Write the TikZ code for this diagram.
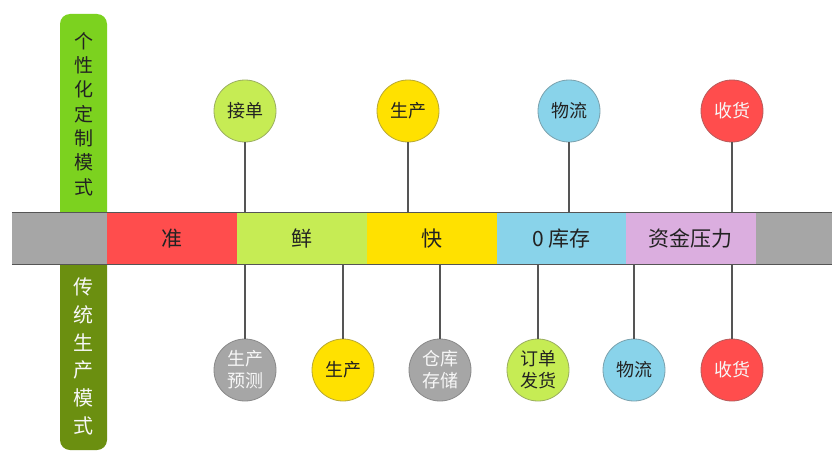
\documentclass[tikz,border=0pt]{standalone}
\usepackage{fontspec}
\newfontfamily\cjk{Noto Sans CJK SC}
\definecolor{cRed}{HTML}{FF4D4D}
\definecolor{cGreen}{HTML}{C6EC54}
\definecolor{cYellow}{HTML}{FFE100}
\definecolor{cBlue}{HTML}{89D3EA}
\definecolor{cPurple}{HTML}{DBAEDF}
\definecolor{cGray}{HTML}{A6A6A6}
\definecolor{cTop}{HTML}{7CD21F}
\definecolor{cBot}{HTML}{6B8F10}
\definecolor{cLine}{HTML}{555555}
\definecolor{cDark}{HTML}{222222}
\definecolor{cLight}{HTML}{F7F7F7}
\tikzset{
  seg/.style={rectangle, inner sep=0, minimum width=130pt, minimum height=51pt,
    font=\cjk\fontsize{21}{24}\selectfont, text=cDark},
  bubble/.style={circle, inner sep=0, minimum size=62pt, line width=0.8pt,
    fill=#1, draw=#1!65!black!80, font=\cjk\fontsize{18}{24}\selectfont, align=center},
  conn/.style={draw=cLine, line width=1.3pt},
  vlabel/.style={inner sep=0, align=center},
}
\begin{document}
\begin{tikzpicture}[x=1pt,y=-1pt]
\useasboundingbox (0,0) rectangle (832,452);
\fill[white] (0,0) rectangle (832,452);
% side boxes
\node[rectangle, rounded corners=10pt, fill=cTop, minimum width=47pt, minimum height=224pt, inner sep=0] (topbox) at (83.5,126) {};
\node[rectangle, rounded corners=10pt, fill=cBot, minimum width=47pt, minimum height=210pt, inner sep=0] (botbox) at (83.5,345) {};
\node[vlabel, text=cDark, font=\cjk\fontsize{19}{24.3}\selectfont] (toptext) at (83.5,114) {个\\性\\化\\定\\制\\模\\式};
\node[vlabel, text=cLight, font=\cjk\fontsize{20}{27.8}\selectfont] (bottext) at (83.5,356.5) {传\\统\\生\\产\\模\\式};
% bar
\node[rectangle, fill=cGray, minimum width=820pt, minimum height=51pt, inner sep=0] (bar) at (422,238.5) {};
\node[seg, fill=cRed] (s1) at (172,238.5) {准};
\node[seg, fill=cGreen] (s2) at (302,238.5) {鲜};
\node[seg, fill=cYellow] (s3) at (432,238.5) {快};
\node[seg, fill=cBlue] (s4) at (561.5,238.5) {0 库存};
\node[seg, fill=cPurple] (s5) at (690.5,238.5) {资金压力};
\draw[cLine, line width=1.3pt] (bar.north west) -- (bar.north east);
\draw[cLine, line width=1.3pt] (bar.south west) -- (bar.south east);
% top bubbles
\node[bubble=cGreen, text=cDark] (t1) at (245,111) {接单};
\node[bubble=cYellow, text=cDark] (t2) at (408,111) {生产};
\node[bubble=cBlue, text=cDark] (t3) at (569,111) {物流};
\node[bubble=cRed, text=cLight] (t4) at (732,111) {收货};
\foreach \n in {t1,t2,t3,t4} \draw[conn] (\n.south) -- (\n.south |- bar.north);
% bottom bubbles
\node[bubble=cGray, text=cLight] (b1) at (245,370) {生产\\[-2pt]预测};
\node[bubble=cYellow, text=cDark] (b2) at (343,370) {生产};
\node[bubble=cGray, text=cLight] (b3) at (440,370) {仓库\\[-2pt]存储};
\node[bubble=cGreen, text=cDark] (b4) at (538,370) {订单\\[-2pt]发货};
\node[bubble=cBlue, text=cDark] (b5) at (634,370) {物流};
\node[bubble=cRed, text=cLight] (b6) at (732,370) {收货};
\foreach \n in {b1,b2,b3,b4,b5,b6} \draw[conn] (\n.north) -- (\n.north |- bar.south);
\end{tikzpicture}
\end{document}
